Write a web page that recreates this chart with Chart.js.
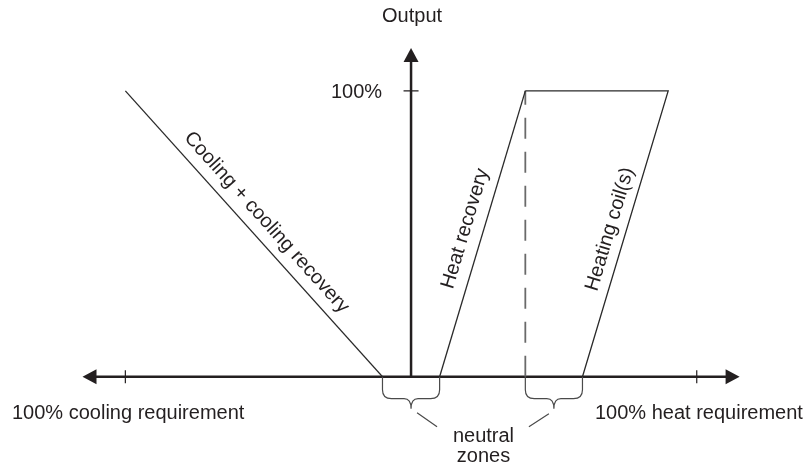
<!DOCTYPE html>
<html>
<head>
<meta charset="utf-8">
<script src="https://cdn.jsdelivr.net/npm/chart.js@4/dist/chart.umd.min.js"></script>
<style>
  html, body { margin: 0; padding: 0; background: #fff; }
  #wrap { width: 807px; height: 467px; }
</style>
</head>
<body>
<div id="wrap"><canvas id="chart" width="807" height="467"></canvas></div>
<script>
// Requirement axis: -100 = 100% cooling, +100 = 100% heat. Output axis: 0..100 %
const coolingX = [-100, -10];
const coolingY = [100, 0];
const heatRecoveryX = [10, 40];
const heatRecoveryY = [0, 100];
const heatingCoilX = [40, 90, 60];
const heatingCoilY = [100, 100, 0];
const dividerX = [40, 40];
const dividerY = [0, 100];
const neutralZones = [[-10, 10], [40, 60]];

const xTicks = [-100, 100];
const yTicks = [100];
const yTickLabels = ["100%"];
const xEndLabels = ["100% cooling requirement", "100% heat requirement"];
const yAxisTitle = "Output";
const zoneLabel = ["neutral", "zones"];

// rotated line labels: text, segment (data), offset from the line in px
const lineLabels = [
  { text: "Cooling + cooling recovery", from: [coolingX[0], coolingY[0]], to: [coolingX[1], coolingY[1]], off: 17 },
  { text: "Heat recovery", from: [heatRecoveryX[0], heatRecoveryY[0]], to: [heatRecoveryX[1], heatRecoveryY[1]], off: 18 },
  { text: "Heating coil(s)", from: [heatingCoilX[2], heatingCoilY[2]], to: [heatingCoilX[1], heatingCoilY[1]], off: 16 },
];

const INK = "#231f20";
const FONT = "20px 'Liberation Sans', Arial, sans-serif";

const pts = (xs, ys) => xs.map((x, i) => ({ x, y: ys[i] }));

const line = (data, extra) => Object.assign({
  data, showLine: true, pointRadius: 0, borderColor: "#2a2a2a",
  borderWidth: 1.3, fill: false, tension: 0,
}, extra || {});

const diagram = {
  id: "diagram",
  beforeDatasetsDraw(chart) {
    const { ctx, scales: { x, y } } = chart;
    const y0 = y.getPixelForValue(0);
    const x0 = x.getPixelForValue(0);
    const xl = x.getPixelForValue(x.min), xr = x.getPixelForValue(x.max);
    const yt = y.getPixelForValue(y.max);
    ctx.save();
    ctx.strokeStyle = INK;
    ctx.fillStyle = INK;
    ctx.lineWidth = 2.5;
    // horizontal axis
    ctx.beginPath();
    ctx.moveTo(xl + 10, y0); ctx.lineTo(xr - 10, y0);
    ctx.stroke();
    ctx.beginPath();
    ctx.moveTo(xl, y0); ctx.lineTo(xl + 14, y0 - 7.5); ctx.lineTo(xl + 14, y0 + 7.5); ctx.closePath();
    ctx.moveTo(xr, y0); ctx.lineTo(xr - 14, y0 - 7.5); ctx.lineTo(xr - 14, y0 + 7.5); ctx.closePath();
    ctx.fill();
    // vertical axis
    ctx.beginPath();
    ctx.moveTo(x0, y0); ctx.lineTo(x0, yt + 10);
    ctx.stroke();
    ctx.beginPath();
    ctx.moveTo(x0, yt); ctx.lineTo(x0 - 7.5, yt + 14); ctx.lineTo(x0 + 7.5, yt + 14); ctx.closePath();
    ctx.fill();
    // ticks
    ctx.lineWidth = 1.2;
    ctx.beginPath();
    xTicks.forEach(v => {
      const px = x.getPixelForValue(v);
      ctx.moveTo(px, y0 - 6.5); ctx.lineTo(px, y0 + 6.5);
    });
    yTicks.forEach(v => {
      const py = y.getPixelForValue(v);
      ctx.moveTo(x0 - 7.5, py); ctx.lineTo(x0 + 7.5, py);
    });
    ctx.stroke();

    // braces under neutral zones
    ctx.strokeStyle = "#4a4a4a";
    ctx.lineWidth = 1.2;
    const tips = [];
    neutralZones.forEach(([a, b]) => {
      const p1 = x.getPixelForValue(a), p2 = x.getPixelForValue(b);
      const m = (p1 + p2) / 2, h = y0 + 22;
      ctx.beginPath();
      ctx.moveTo(p1, y0); ctx.lineTo(p1, h - 9);
      ctx.quadraticCurveTo(p1, h, p1 + 9, h);
      ctx.lineTo(m - 7, h);
      ctx.quadraticCurveTo(m, h, m, h + 10);
      ctx.moveTo(p2, y0); ctx.lineTo(p2, h - 9);
      ctx.quadraticCurveTo(p2, h, p2 - 9, h);
      ctx.lineTo(m + 7, h);
      ctx.quadraticCurveTo(m, h, m, h + 10);
      ctx.stroke();
      tips.push(m);
    });
    // pointers to label
    ctx.beginPath();
    ctx.moveTo(tips[0] + 6, y0 + 36); ctx.lineTo(tips[0] + 26, y0 + 50);
    ctx.moveTo(tips[1] - 5, y0 + 37); ctx.lineTo(tips[1] - 25, y0 + 50);
    ctx.stroke();

    // texts
    ctx.fillStyle = INK;
    ctx.font = FONT;
    ctx.textBaseline = "alphabetic";
    ctx.textAlign = "center";
    ctx.fillText(yAxisTitle, x0 + 1, yt - 26);
    const zx = (tips[0] + tips[1]) / 2 + 1;
    ctx.fillText(zoneLabel[0], zx, y0 + 65);
    ctx.fillText(zoneLabel[1], zx, y0 + 85);
    ctx.textAlign = "right";
    yTicks.forEach((v, i) => ctx.fillText(yTickLabels[i], x0 - 29, y.getPixelForValue(v) + 7));
    ctx.textAlign = "left";
    ctx.fillText(xEndLabels[0], 12, y0 + 42);
    ctx.fillText(xEndLabels[1], 595, y0 + 42);

    // rotated labels along lines
    ctx.textAlign = "center";
    ctx.textBaseline = "middle";
    lineLabels.forEach(l => {
      const ax = x.getPixelForValue(l.from[0]), ay = y.getPixelForValue(l.from[1]);
      const bx = x.getPixelForValue(l.to[0]), by = y.getPixelForValue(l.to[1]);
      const ang = Math.atan2(by - ay, bx - ax);
      const cx = (ax + bx) / 2 + Math.sin(ang) * l.off;
      const cy = (ay + by) / 2 - Math.cos(ang) * l.off;
      ctx.save();
      ctx.translate(cx, cy);
      ctx.rotate(ang);
      ctx.fillText(l.text, 0, 0);
      ctx.restore();
    });
    ctx.restore();
  }
};

new Chart(document.getElementById("chart"), {
  type: "scatter",
  data: {
    datasets: [
      line(pts(coolingX, coolingY)),
      line(pts(heatRecoveryX, heatRecoveryY)),
      line(pts(heatingCoilX, heatingCoilY)),
      line(pts(dividerX, dividerY), { borderColor: "#6a6a6a", borderWidth: 1.8, borderDash: [21, 13] }),
    ],
  },
  options: {
    responsive: false,
    animation: false,
    layout: { padding: { left: 82.5, right: 67.4, top: 48, bottom: 90.3 } },
    plugins: { legend: { display: false }, tooltip: { enabled: false } },
    scales: {
      x: { type: "linear", min: -115, max: 115, display: false },
      y: { type: "linear", min: 0, max: 115, display: false },
    },
  },
  plugins: [diagram],
});
</script>
</body>
</html>
